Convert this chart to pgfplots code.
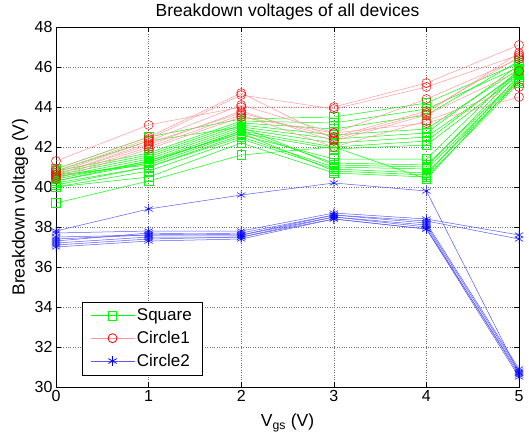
\documentclass[border=0pt]{standalone}
\usepackage{fontspec}
\setmainfont{Liberation Sans}
\usepackage{pgfplots}
\usepackage{pgfplotstable}
\pgfplotsset{compat=1.18}

% breakdown voltage per device, Vgs = 0..5
\pgfplotstableread{
x  g1   g2   g3   g4   g5   g6   g7   g8   g9   g10  g11  g12  g13  g14  g15  g16
0  40.9 40.8 40.7 40.6 40.5 40.4 40.3 40.6 40.2 40.5 40.1 40.0 40.3 40.0 39.2 40.8
1  42.5 41.7 41.6 41.5 41.4 41.3 41.2 41.1 41.0 41.2 41.0 40.8 41.3 40.5 40.3 42.3
2  43.4 43.3 43.2 43.1 43.0 42.9 42.8 42.7 42.6 42.8 42.5 42.4 42.7 42.2 41.6 43.0
3  43.5 43.2 42.9 42.6 42.4 42.2 42.0 41.9 41.4 41.2 41.0 40.9 40.8 40.7 42.0 41.1
4  44.2 43.9 43.6 42.9 42.7 42.5 42.3 42.1 41.4 41.1 40.9 40.7 40.6 40.5 40.4 41.0
5  46.2 46.0 46.3 45.9 46.1 45.7 45.8 45.6 45.9 45.5 45.4 45.3 45.6 45.2 45.4 45.8
}\squaretab

\pgfplotstableread{
x  r1   r2   r3   r4   r5   r6   r7   r8
0  41.3 40.9 40.8 40.7 40.6 40.5 40.4 40.6
1  43.1 42.5 42.4 42.3 42.1 42.0 41.9 42.2
2  44.0 44.7 44.6 44.1 43.8 43.6 43.5 43.7
3  44.0 42.4 43.9 42.7 42.3 42.0 42.7 42.5
4  45.2 43.7 45.0 44.4 43.6 43.3 43.2 43.8
5  47.1 46.7 46.6 46.4 45.8 45.0 44.5 46.5
}\circleonetab

\pgfplotstableread{
x  b1   b2   b3   b4   b5   b6   b7   b8
0  37.8 37.7 37.5 37.3 37.2 37.1 37.0 37.4
1  38.9 37.8 37.6 37.7 37.5 37.4 37.3 37.6
2  39.6 37.8 37.7 37.6 37.5 37.5 37.4 37.6
3  40.2 38.7 38.6 38.5 38.5 38.4 38.4 38.6
4  39.8 38.4 38.3 38.1 38.0 37.9 37.9 38.2
5  30.7 37.6 37.4 30.8 30.6 30.5 30.7 30.9
}\circletwotab

\definecolor{mgreen}{rgb}{0,1,0}
\definecolor{mred}{rgb}{1,0,0}
\definecolor{mblue}{rgb}{0,0,1}

\begin{document}
\begin{tikzpicture}
\begin{axis}[
  width=463pt,height=360pt,scale only axis,
  xmin=0,xmax=5,ymin=30,ymax=48,
  xtick={0,...,5},ytick={30,32,...,48},
  tick align=inside,major tick length=5pt,
  xtick pos=both,ytick pos=both,
  xticklabel pos=lower,yticklabel pos=left,
  grid=major,major grid style={dotted,black!55,line width=0.6pt},
  axis line style={black,line width=0.9pt},
  tick style={black,line width=0.6pt},
  tick label style={font=\fontsize{16}{19}\selectfont},
  /pgf/number format/assume math mode=true,
  title={Breakdown voltages of all devices},
  title style={font=\fontsize{17.5}{20}\selectfont,at={(axis description cs:0.5,1.0417)},
    anchor=center,yshift=-6pt},
  xlabel={V\textsubscript{gs} (V)},
  ylabel={Breakdown voltage (V)},
  label style={font=\fontsize{17.5}{20}\selectfont},
  xlabel style={at={(axis description cs:0.5,-0.1)},anchor=center},
  ylabel style={at={(axis description cs:-0.0778,0.5)},anchor=center},
  legend style={at={(0.056,0.033)},anchor=south west,
    font=\fontsize{17}{20}\selectfont,row sep=5pt,inner xsep=8pt,inner ysep=5pt},
  legend cell align=left,
  legend image code/.code={\draw[mark repeat=2,mark phase=2,line width=0.8pt,#1]
    plot coordinates {(0pt,0pt)(22pt,0pt)(44pt,0pt)};},
]
\pgfplotsinvokeforeach{1,...,16}{
  \addplot[mgreen,line width=0.5pt,mark=square,mark size=4.3pt,forget plot]
    table[x=x,y=g#1]{\squaretab};
}
\pgfplotsinvokeforeach{1,...,8}{
  \addplot[mred!40,line width=0.5pt,mark=o,mark size=4.5pt,
    mark options={draw=mred},forget plot]
    table[x=x,y=r#1]{\circleonetab};
}
\pgfplotsinvokeforeach{1,...,8}{
  \addplot[mblue!65,line width=0.5pt,mark=asterisk,mark size=4.8pt,
    mark options={draw=mblue},forget plot]
    table[x=x,y=b#1]{\circletwotab};
}
\addlegendimage{mgreen,mark=square,mark size=4.3pt}
\addlegendentry{Square}
\addlegendimage{mred!40,mark=o,mark size=4.5pt,mark options={draw=mred}}
\addlegendentry{Circle1}
\addlegendimage{mblue!65,mark=asterisk,mark size=4.8pt,mark options={draw=mblue}}
\addlegendentry{Circle2}
\end{axis}
\pgfresetboundingbox
\path ([xshift=-56pt,yshift=-53pt]current axis.south west)
  rectangle ([xshift=10pt,yshift=27pt]current axis.north east);
\end{tikzpicture}
\end{document}
